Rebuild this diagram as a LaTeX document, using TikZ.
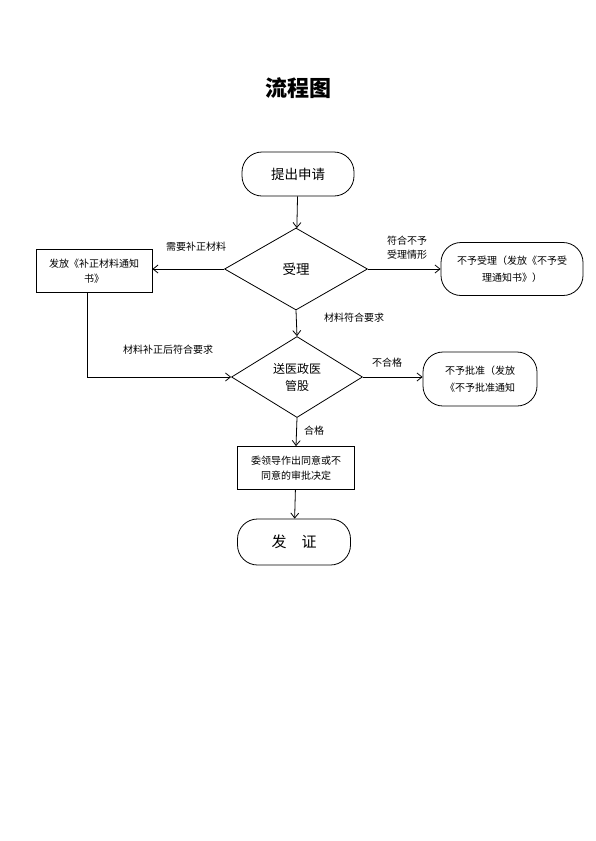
\documentclass[tikz,border=0pt]{standalone}
\usepackage{fontspec}
\setmainfont{Noto Sans CJK SC}
\usepackage{tikz}
\usetikzlibrary{positioning, arrows.meta, shapes.geometric}

\begin{document}
\begin{tikzpicture}[
            x=1pt, y=-1pt,
            >={Straight Barb[length=5pt, width=8pt]},
            every path/.style={line width=0.8pt},
            terminal/.style={draw, rectangle, rounded corners=20pt, align=center},
            process/.style={draw, rectangle, align=center, font=\fontsize{10}{15}\selectfont},
            decision/.style={draw, diamond, align=center, inner sep=0pt},
            lbl/.style={font=\fontsize{10}{14}\selectfont, align=center},
            flow/.style={->},
        ]
        \useasboundingbox (0,0) rectangle (595,841);

        % Title
        \node[font=\fontsize{22}{24}\selectfont\bfseries] (title) at (298,88) {流程图};

        % Main column
        \node[terminal, minimum width=112pt, minimum height=44pt, font=\fontsize{13.5}{16}\selectfont] (apply) at (298,174) {提出申请};
        \node[decision, minimum width=143pt, minimum height=82pt, font=\fontsize{13.5}{16}\selectfont] (accept) at (296,269) {受理};
        \node[decision, minimum width=131pt, minimum height=81pt, font=\fontsize{12}{17}\selectfont] (review) at (297,377) {送医政医\\管股};
        \node[process, minimum width=117pt, minimum height=43pt] (decide) at (296,468) {委领导作出同意或不\\同意的审批决定};
        \node[terminal, minimum width=113pt, minimum height=46pt, font=\fontsize{15}{18}\selectfont] (issue) at (294,542) {发\hspace{1em}证};

        % Side boxes
        \node[process, minimum width=116pt, minimum height=43pt] (supply) at (94,271) {发放《补正材料通知\\书》};
        \node[terminal, minimum width=142pt, minimum height=53pt, font=\fontsize{10}{17}\selectfont] (refuse) at (512,269) {不予受理（发放《不予受\\理通知书》）};
        \node[terminal, minimum width=114pt, minimum height=54pt, font=\fontsize{10}{17}\selectfont] (reject) at (480,379) {不予批准（发放\\《不予批准通知};

        % Connectors
        \draw[flow] (apply) -- (accept);
        \draw[flow] (accept.west) -- (supply.east |- accept.west);
        \draw[flow] (accept.east) -- (refuse.west);
        \draw[flow] (accept.south) -- (review.north);
        \draw[flow] (supply.south -| 87,0) |- (review.west);
        \draw[flow] (review.east) -- (review.east -| reject.west);
        \draw[flow] (review.south) -- (decide.north);
        \draw[flow] (decide) -- (issue);

        % Labels
        \node[lbl] (l-need) at (196,247) {需要补正材料};
        \node[lbl] (l-deny) at (407,248) {符合不予\\受理情形};
        \node[lbl] (l-ok) at (354,318) {材料符合要求};
        \node[lbl] (l-fixed) at (168,350) {材料补正后符合要求};
        \node[lbl] (l-fail) at (387,363) {不合格};
        \node[lbl] (l-pass) at (314,431) {合格};
    \end{tikzpicture}
\end{document}
